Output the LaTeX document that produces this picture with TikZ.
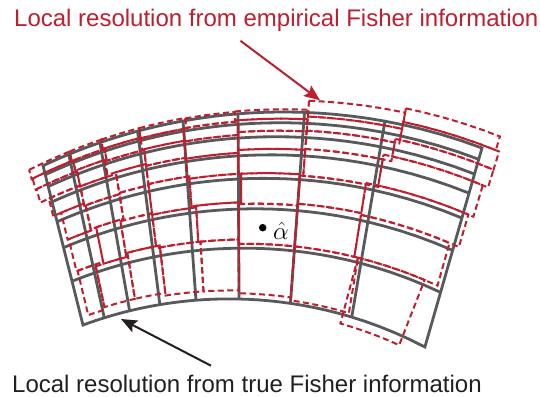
\documentclass[tikz,border=0pt]{standalone}
\usepackage{fontspec}
\newfontfamily\labelfont{Liberation Sans}
\usetikzlibrary{arrows.meta}
\definecolor{gridgray}{RGB}{88,89,91}
\definecolor{fred}{RGB}{190,30,45}
\definecolor{ink}{RGB}{35,31,32}
% offsets of the empirical cell edges: horizontal edges per column (8 per column),
% vertical edges per row (9 per row)
\def\Vlist{-0.3,-0.2,-0.2,-0.25,-0.3,-0.2,-0.2,-0.15,
 -0.3,-0.2,-0.3,-0.2,-0.2,-0.25,-0.15,-0.2,
 -0.3,-0.25,-0.2,-0.3,-0.25,-0.2,-0.25,-0.2,
 -0.3,-0.2,-0.25,-0.2,-0.3,-0.15,-0.2,-0.15,
 -0.25,-0.25,-0.2,-0.15,-0.2,-0.2,-0.2,-0.15,
 -0.3,-0.35,-0.4,-0.3,-0.2,-0.15,-0.1,-0.1,
 -1.5,-0.6,-0.45,-0.35,-0.15,-0.2,-0.1,-0.05,
 -2.2,-1.3,-0.7,-0.6,-0.2,-0.15,-0.1,0.15}
\def\Ulist{-0.6,0.05,0.05,0.05,0.05,-0.05,0.05,0.2,0.12,
 -0.55,0.1,0.1,0.05,0,0,0.05,0.2,0.15,
 -0.5,0.15,0.05,0.1,0,0,0.05,0.15,0.15,
 -0.1,0.15,0.3,0.1,0,0,0.05,0.05,0.1,
 0.25,0.2,0.3,0.1,0.05,0.05,0,-0.1,0.05,
 0.3,0.4,0.2,0.1,0.15,0,0,-0.1,-0.05,
 0.35,0.1,0.25,0.2,0.2,0,0,-0.05,-0.2}
\begin{document}
\begin{tikzpicture}[x=1pt,y=-1pt,
  declare function={
    sv(\q)=(1.3^(\q)-1)/5.275;
    xt(\p)=-80.3+123.3*1.2089^(\p);
    xb(\p)=-27.08+110.08*1.1931^(\p);
    yt(\p)=677.4-565.4*sqrt(1-((xt(\p)-283.5)/565.4)^2);
    yb(\p)=721-422.1*sqrt(1-((xb(\p)-229.2)/422.1)^2);
    fx(\p,\q)=xt(\p)+sv(\q)*(xb(\p)-xt(\p));
    fy(\p,\q)=yt(\p)+sv(\q)*(yb(\p)-yt(\p));
  },
  gridline/.style={draw=gridgray, line width=2.8pt, line join=miter},
  redcell/.style={draw=fred, line width=2pt, dash pattern=on 6pt off 3.5pt},
  lbl/.style={inner sep=0pt, font=\labelfont\fontsize{24}{28}\selectfont},
  arr/.style={line width=2pt, -{Stealth[length=16pt,width=13pt,inset=3pt]}}
]
\useasboundingbox (0,0) rectangle (540,396);

% true Fisher grid
\foreach \j in {1,...,6}
  \draw[gridline] plot[variable=\t, domain=0:8, samples=41] ({fx(\t,\j)},{fy(\t,\j)});
\foreach \i in {1,...,7}
  \draw[gridline] ({fx(\i,0)},{fy(\i,0)}) -- ({fx(\i,7)},{fy(\i,7)});
\draw[gridline] plot[variable=\t, domain=0:8, samples=41] ({fx(\t,0)},{fy(\t,0)})
  -- plot[variable=\t, domain=8:0, samples=41] ({fx(\t,7)},{fy(\t,7)}) -- cycle;

% empirical Fisher cells
\foreach \rr in {0,...,6}{
  \foreach \cc in {0,...,7}{
    \pgfmathsetmacro\ua{\cc+{\Ulist}[\rr*9+\cc]}
    \pgfmathsetmacro\ub{\cc+1+{\Ulist}[\rr*9+\cc+1]}
    \pgfmathsetmacro\va{\rr+{\Vlist}[\cc*8+\rr]}
    \pgfmathsetmacro\vb{\rr+1+{\Vlist}[\cc*8+\rr+1]}
    \pgfmathsetmacro\K{ifthenelse(\cc==7 && \rr==6,-0.1,0)}
    \pgfmathsetmacro\uc{\ub+\K}
    \pgfmathsetmacro\ud{\ua+\K}
    \draw[redcell] plot[variable=\t, domain=\ua:\ub, samples=6] ({fx(\t,\va)},{fy(\t,\va)})
      -- plot[variable=\t, domain=\uc:\ud, samples=6] ({fx(\t,\vb)},{fy(\t,\vb)}) -- cycle;
  }
}

% estimate
\node[circle, fill=black, inner sep=0pt, minimum size=7.5pt] (dot) at (262.7,227.7) {};
\node[anchor=base west, inner sep=0pt, font=\fontsize{29}{31}\selectfont] (alphahat) at (273,239.5) {$\hat{\alpha}$};

% labels
\node[lbl, anchor=base west, text=fred] (emplbl) at (14,27) {Local resolution from empirical Fisher information};
\node[lbl, anchor=base west, text=ink] (truelbl) at (12,392) {Local resolution from true Fisher information};

\coordinate (empTail) at (240.5,40.8);
\coordinate (empTip) at (320,100.3);
\coordinate (trueTail) at (211,365.7);
\coordinate (trueTip) at (121,319);
\draw[arr, draw=fred, fill=fred] (empTail) -- (empTip);
\draw[arr, draw=ink, fill=ink] (trueTail) -- (trueTip);
\end{tikzpicture}
\end{document}
